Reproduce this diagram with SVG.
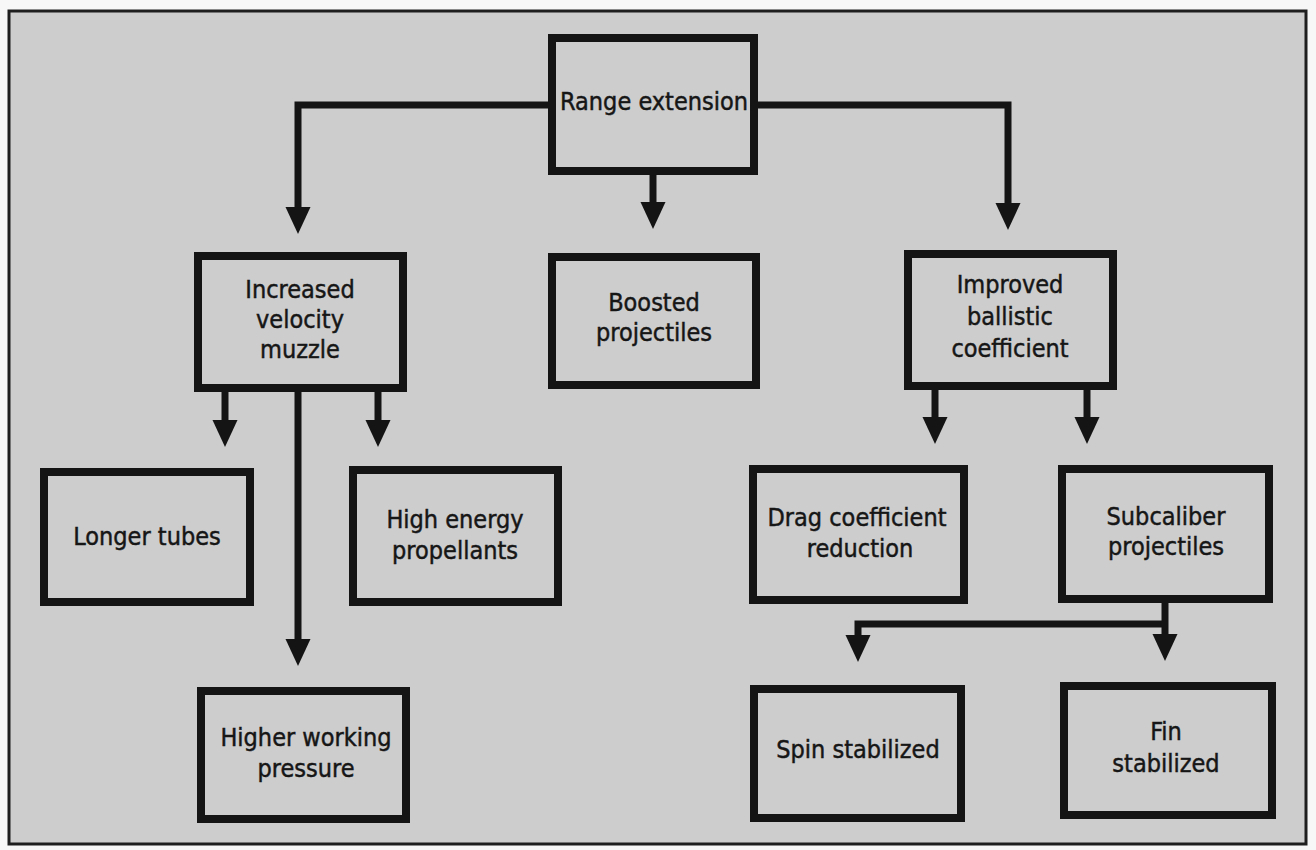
<svg xmlns="http://www.w3.org/2000/svg" width="1316" height="850" viewBox="0 0 1316 850">
<style>
.box{fill:none;stroke:#141414;stroke-width:8}
.t{font-family:"Liberation Sans Narrow","DejaVu Sans Condensed","Liberation Sans",sans-serif;font-size:25px;fill:#161616;stroke:#161616;stroke-width:0.45;text-anchor:middle}
.c{fill:none;stroke:#141414;stroke-width:7;stroke-linejoin:miter;marker-end:url(#ah)}
</style>
<defs>
<marker id="ah" markerUnits="userSpaceOnUse" markerWidth="28" markerHeight="26" refX="1" refY="12.5" orient="auto" viewBox="0 0 28 25">
<path d="M0,0 L27,12.5 L0,25 z" fill="#141414"/>
</marker>
</defs>
<rect x="0" y="0" width="1316" height="850" fill="#f7f7f7"/>
<rect x="9" y="11" width="1297" height="833" fill="#cdcdcd" stroke="#1e1e1e" stroke-width="3"/>
<g id="connectors">
<path class="c" d="M552,105 H298 V208"/>
<path class="c" d="M653,175 V203"/>
<path class="c" d="M754,105 H1008 V204"/>
<path class="c" d="M225,392 V421"/>
<path class="c" d="M298,392 V640"/>
<path class="c" d="M378,392 V421"/>
<path class="c" d="M935,390 V418"/>
<path class="c" d="M1087,390 V418"/>
<path class="c" d="M1165,603 V635"/>
<path class="c" d="M1165,624 H858 V636"/>
</g>
<g id="n-range"><rect class="box" x="552" y="38" width="202" height="133"/><text class="t" x="654" y="110">Range extension</text></g>
<g id="n-velocity"><rect class="box" x="198" y="256" width="205" height="132"/><text class="t" x="300" y="298">Increased</text><text class="t" x="300" y="328">velocity</text><text class="t" x="300" y="358">muzzle</text></g>
<g id="n-boosted"><rect class="box" x="552" y="257" width="204" height="128"/><text class="t" x="654" y="311">Boosted</text><text class="t" x="654" y="341">projectiles</text></g>
<g id="n-ballistic"><rect class="box" x="908" y="254" width="205" height="132"/><text class="t" x="1010" y="293">Improved</text><text class="t" x="1010" y="325">ballistic</text><text class="t" x="1010" y="357">coefficient</text></g>
<g id="n-tubes"><rect class="box" x="44" y="472" width="206" height="130"/><text class="t" x="147" y="545">Longer tubes</text></g>
<g id="n-propellants"><rect class="box" x="353" y="470" width="205" height="132"/><text class="t" x="455" y="528">High energy</text><text class="t" x="455" y="559">propellants</text></g>
<g id="n-pressure"><rect class="box" x="201" y="691" width="205" height="128"/><text class="t" x="306" y="746">Higher working</text><text class="t" x="306" y="777">pressure</text></g>
<g id="n-drag"><rect class="box" x="753" y="469" width="211" height="131"/><text class="t" x="857" y="526">Drag coefficient</text><text class="t" x="860" y="557">reduction</text></g>
<g id="n-subcaliber"><rect class="box" x="1062" y="469" width="207" height="130"/><text class="t" x="1166" y="525">Subcaliber</text><text class="t" x="1166" y="555">projectiles</text></g>
<g id="n-spin"><rect class="box" x="754" y="689" width="207" height="129"/><text class="t" x="858" y="758">Spin stabilized</text></g>
<g id="n-fin"><rect class="box" x="1064" y="686" width="208" height="129"/><text class="t" x="1166" y="740">Fin</text><text class="t" x="1166" y="772">stabilized</text></g>
</svg>
